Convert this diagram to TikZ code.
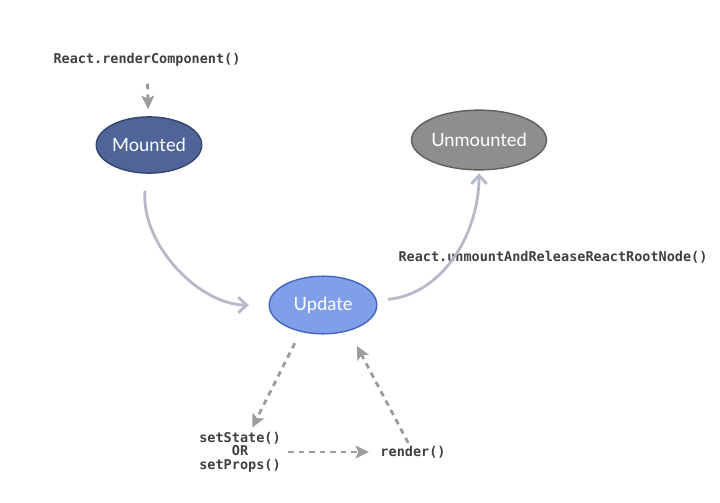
\documentclass[tikz,border=0pt]{standalone}
\usepackage{fontspec}
\setmainfont{Lato}
\newfontfamily\codefont{DejaVu Sans Mono}
\usetikzlibrary{shapes.geometric,arrows.meta}
\definecolor{mountblue}{HTML}{4F6597}
\definecolor{mountedge}{HTML}{34466F}
\definecolor{updateblue}{HTML}{7F9FE8}
\definecolor{updateedge}{HTML}{4566C0}
\definecolor{deadgrey}{HTML}{8C8F8B}
\definecolor{deadedge}{HTML}{5E605D}
\definecolor{flowgrey}{HTML}{B8B8CB}
\definecolor{callgrey}{HTML}{9C9C9C}
\definecolor{codegrey}{HTML}{404040}

\begin{document}
\begin{tikzpicture}[x=0.025cm,y=0.025cm,line width=0.45pt,>=stealth,
    state/.style={ellipse,draw,line width=1pt,inner sep=0pt,
      minimum width=75pt,minimum height=40pt,text=white,
      font=\fontsize{13}{15}\selectfont},
    call/.style={text=codegrey,font=\codefont\bfseries\fontsize{9.6}{9.6}\selectfont,
      align=center,inner sep=2pt},
    flow/.style={draw=flowgrey,line width=2pt,
      -{Straight Barb[length=6pt,width=11pt]}},
    trigger/.style={draw=callgrey,line width=2pt,dash pattern=on 4pt off 3.5pt,
      -{Stealth[length=9.5pt,width=9pt,inset=2pt]}}]
  \fill[white] (0,0) rectangle (720,-502);
  \useasboundingbox (0,0) rectangle (720,-502);

  \node[state,fill=mountblue,draw=mountedge] (mounted) at (149,-145) {Mounted};
  \node[state,fill=deadgrey,draw=deadedge,minimum width=95pt,minimum height=42.5pt]
      (unmounted) at (479,-140) {Unmounted};
  \node[state,fill=updateblue,draw=updateedge,minimum width=76.5pt,minimum height=41pt]
      (update) at (323,-305) {Update};

  \node[call] (renderComp) at (147,-60) {React.renderComponent()};
  \node[call] (unmountCall) at (553,-257) {React.unmountAndReleaseReactRootNode()};
  \node[call] (setCall) at (240,-452) {setState()\\OR\\setProps()};
  \node[call] (render) at (413,-452) {render()};

  \draw[trigger,shorten <=10pt,shorten >=5pt] (renderComp) -- (mounted);
  \draw[flow,shorten <=12pt,shorten >=14pt] (mounted) to[out=-95,in=180] (update);
  \draw[flow,shorten <=8pt,shorten >=2pt] (update) to[out=5,in=-90] (unmounted);
  \draw[trigger,shorten <=9pt,shorten >=1pt] (update.-130) -- (setCall);
  \draw[trigger,shorten <=3pt,shorten >=6pt] (setCall) -- (render);
  \draw[trigger,shorten >=12pt] (render) -- (update.-45);
\end{tikzpicture}
\end{document}
